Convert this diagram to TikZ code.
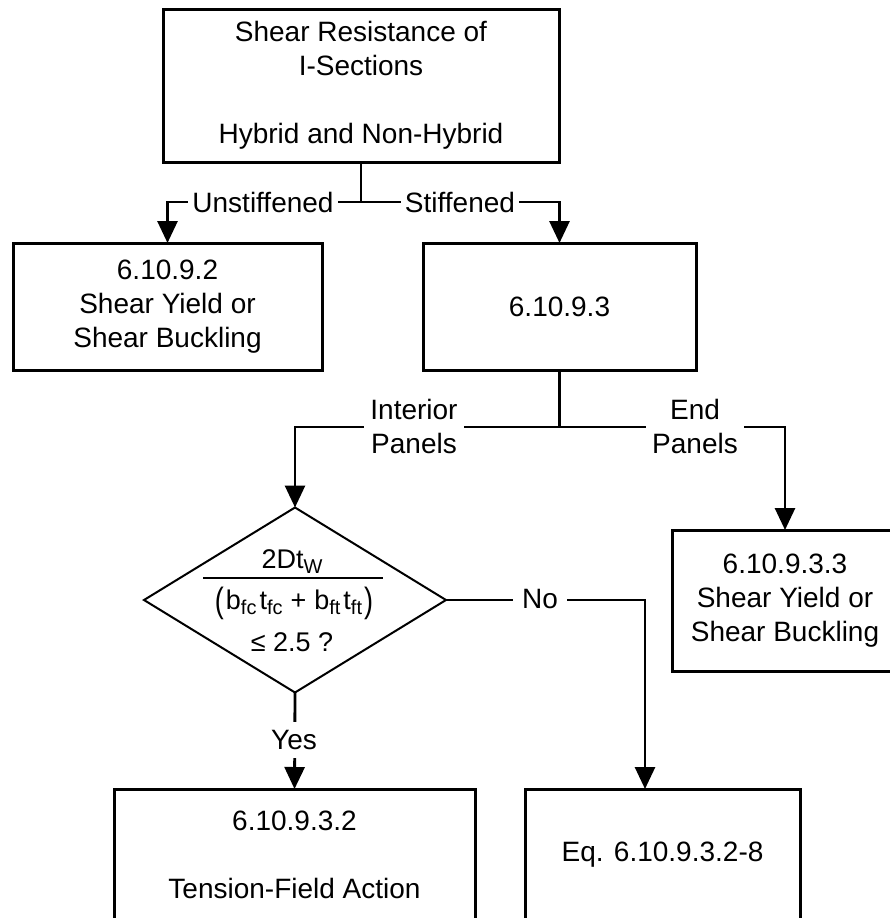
\documentclass[tikz,border=0pt]{standalone}
\usepackage{fontspec}
\setmainfont{Liberation Sans}
\usetikzlibrary{arrows.meta,shapes.geometric,calc}
\newcommand{\bxfont}{\fontsize{28}{34}\selectfont}
\newcommand{\dgfont}{\fontsize{27}{30}\selectfont}
\newcommand{\dsub}[1]{\raisebox{-5pt}{\fontsize{20}{22}\selectfont #1}}
\newcommand{\tallparen}[1]{\raisebox{-2.5pt}{\scalebox{1}[1.3]{#1}}}
\begin{document}
\begin{tikzpicture}[x=1pt,y=-1pt,
  box/.style={draw, line width=3pt, align=center, inner sep=0pt, outer sep=0pt, font=\bxfont},
  conn/.style={line width=2.8pt},
  arr/.style={conn, -{Triangle[width=20pt,length=22pt]}},
  lab/.style={fill=white, inner xsep=4pt, inner ysep=1pt, align=center, font=\bxfont},
  dtxt/.style={inner sep=0pt, font=\dgfont}
]
\useasboundingbox (0,0) rectangle (890,918);
\clip (0,0) rectangle (890,918);

% boxes
\node[box, minimum width=396pt, minimum height=153pt] (top) at (361,85.5)
  {Shear Resistance of\\I-Sections\\[34pt]Hybrid and Non-Hybrid};
\node[box, minimum width=309pt, minimum height=127pt] (lbox) at (167.5,306.5)
  {6.10.9.2\\Shear Yield or\\Shear Buckling};
\node[box, minimum width=273pt, minimum height=127pt] (rbox) at (559.5,306.5)
  {6.10.9.3};
\node[box, minimum width=226pt, minimum height=141pt] (mbox) at (785,600.5)
  {6.10.9.3.3\\Shear Yield or\\Shear Buckling};
\node[box, minimum width=361pt, minimum height=132pt] (blbox) at (294.5,855)
  {6.10.9.3.2\\[34pt]Tension-Field Action};
\node[box, minimum width=275pt, minimum height=132pt] (brbox) at (662.5,855)
  {Eq. 6.10.9.3.2-8};

% decision diamond
\node[diamond, draw, line width=2pt, inner sep=0pt, outer sep=0pt,
      minimum width=302pt, minimum height=185pt] (dia) at (295,600) {};
\node[dtxt] (num) at (292,562) {2Dt\dsub{W}};
\coordinate (barL) at (203,578);
\coordinate (barR) at (383,578);
\draw[line width=1.5pt] (barL) -- (barR);
\node[dtxt] (den) at (294,603)
  {\tallparen{(}\hspace{2pt}b\dsub{fc}\hspace{3pt}t\dsub{fc}\hspace{8pt}+\hspace{8pt}b\dsub{ft}\hspace{3pt}t\dsub{ft}\hspace{2pt}\tallparen{)}};
\node[dtxt] (le) at (292,642) {≤ 2.5 ?};

% connectors
\coordinate (j1) at (top.south |- 0,202);
\draw[conn] (top.south) -- (j1);
\draw[arr] (j1) -| (lbox.north);
\draw[arr] (j1) -| (rbox.north);

\coordinate (j2) at (rbox.south |- 0,427);
\draw[conn] (rbox.south) -- (j2);
\draw[arr] (j2) -| (dia.north);
\draw[arr] (j2) -| (mbox.north);

\coordinate (noend) at ([xshift=-17.5pt]brbox.north);
\draw[arr] (dia.east) -| (noend);
\draw[arr] (dia.south) -- (blbox.north);

% labels
\node[lab] (unst) at (263,202) {Unstiffened};
\node[lab] (stif) at (460,202) {Stiffened};
\node[lab, inner xsep=6pt] (intp) at (414,426) {Interior\\Panels};
\node[lab, inner xsep=6pt] (endp) at (695,426) {End\\Panels};
\node[lab, inner xsep=9pt] (nolab) at (540,599) {No};
\node[lab, inner ysep=8pt] (yeslab) at (294,740) {Yes};
\end{tikzpicture}
\end{document}
